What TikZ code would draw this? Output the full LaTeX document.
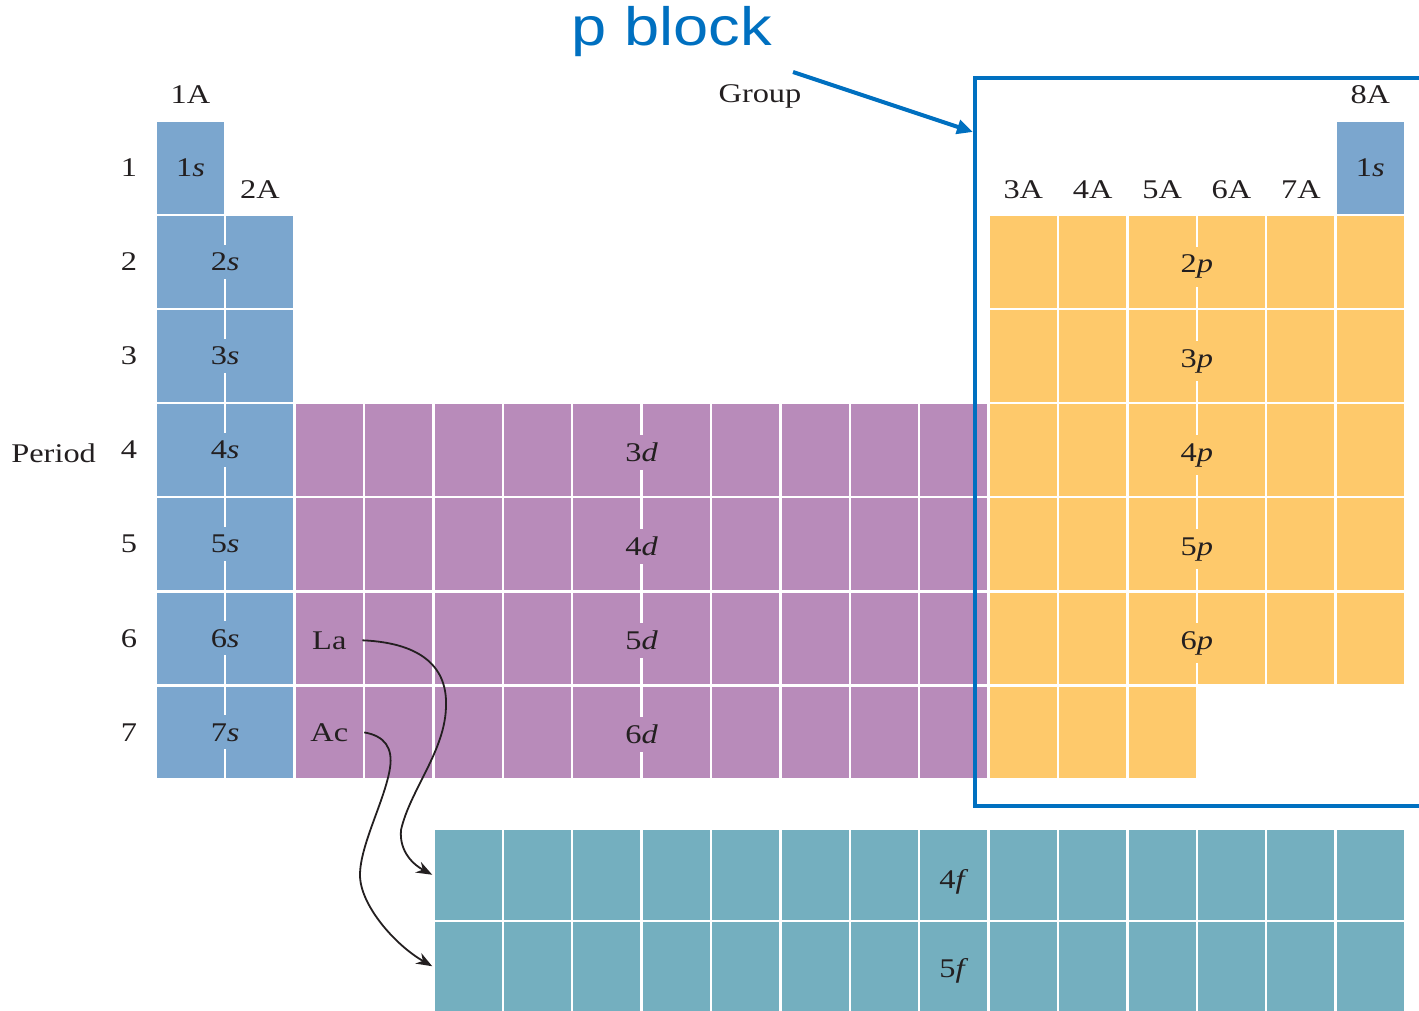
\documentclass[tikz,border=0pt]{standalone}
\usepackage{fontspec}
\setmainfont[FakeStretch=1.2]{Liberation Serif}
\newfontfamily\blocksans[FakeStretch=1.17]{Liberation Sans}
\usepackage{xcolor}
\usetikzlibrary{calc,arrows.meta}
\definecolor{sBlue}{HTML}{7BA6CE}
\definecolor{dPurple}{HTML}{B88BBA}
\definecolor{pYellow}{HTML}{FEC96B}
\definecolor{fTeal}{HTML}{74AFBF}
\definecolor{frameBlue}{HTML}{0070C0}
\definecolor{inkGray}{HTML}{231F20}

\begin{document}
\begin{tikzpicture}[
  x=0.5pt, y=-0.5pt,
  every node/.style={font=\fontsize{13.5pt}{16pt}\selectfont, text=inkGray},
  cell/.style={minimum width=33.45pt, minimum height=45.8pt, inner sep=0pt},
  scell/.style={cell, fill=sBlue},
  dcell/.style={cell, fill=dPurple},
  pcell/.style={cell, fill=pYellow},
  fcell/.style={cell, fill=fTeal, minimum height=44.75pt},
  orb/.style={inner xsep=2pt, inner ysep=4pt},
  lanth/.style={-{Stealth[length=8pt,width=6pt]}, line width=0.9pt, inkGray},
  pointer/.style={-{Triangle[length=8pt,width=7pt]}, line width=2pt, frameBlue},
]
\useasboundingbox (0,0) rectangle (1419,1011);

% s block
\node[scell] (s-1-1) at (190.5,167.8) {};
\foreach \r in {2,...,7}
  \foreach \c in {1,2}
    \node[scell] (s-\r-\c) at ({190.5+(\c-1)*69.4},{167.8+(\r-1)*94.1}) {};
\node[scell] (s-1-18) at ({190.5+17*69.4},167.8) {};

% d block
\foreach \r in {4,...,7}
  \foreach \c in {3,...,12}
    \node[dcell] (d-\r-\c) at ({190.5+(\c-1)*69.4},{167.8+(\r-1)*94.1}) {};

% p block
\foreach \r in {2,...,6}
  \foreach \c in {13,...,18}
    \node[pcell] (p-\r-\c) at ({190.5+(\c-1)*69.4},{167.8+(\r-1)*94.1}) {};
\foreach \c in {13,14,15}
  \node[pcell] (p-7-\c) at ({190.5+(\c-1)*69.4},{167.8+6*94.1}) {};

% f block
\foreach \c in {5,...,18} {
  \node[fcell] (f-1-\c) at ({190.5+(\c-1)*69.4},874.75) {};
  \node[fcell] (f-2-\c) at ({190.5+(\c-1)*69.4},966.25) {};
}

% Orbital labels
\node[orb] at (s-1-1) {1\textit{s}};
\node[orb] at (s-1-18) {1\textit{s}};
\foreach \r in {2,...,7}
  \node[orb, fill=sBlue] at ($(s-\r-1.east)!0.5!(s-\r-2.west)$) {\r\textit{s}};
\foreach \r/\n in {4/3,5/4,6/5,7/6}
  \node[orb, fill=dPurple, yshift=-1pt] at ($(d-\r-7.east)!0.5!(d-\r-8.west)$) {\n\textit{d}};
\foreach \r in {2,...,6}
  \node[orb, fill=pYellow, yshift=-2.5pt] at ($(p-\r-15.east)!0.5!(p-\r-16.west)$) {\r\textit{p}};
\node[orb, yshift=-3.5pt] at (f-1-12) {4\textit{f}};
\node[orb, yshift=-2.5pt] at (f-2-12) {5\textit{f}};
\node[yshift=-1pt] (la) at (d-6-3) {La};
\node (ac) at (d-7-3) {Ac};

% Periods
\foreach \r in {1,...,7}
  \node (per-\r) at (129,{167.8+(\r-1)*94.1}) {\r};
\node[anchor=east] (period) at (103,453) {Period};

% Groups
\node (g-1) at (190.5,95) {1A};
\node (g-2) at (259.9,190) {2A};
\foreach \c/\g in {13/3,14/4,15/5,16/6,17/7}
  \node (g-\g) at ({190.5+(\c-1)*69.4},190) {\g A};
\node (g-8) at ({190.5+17*69.4},95) {8A};
\node (group) at (760,96) {Group};

% La and Ac rows moved down
\draw[lanth] ([xshift=4.5pt]la.east) .. controls (425,643) and (447,670) .. (446,705)
  .. controls (446,750) and (410,790) .. (401,830)
  .. controls (399,852) and (414,865) .. ([xshift=-1pt]f-1-5.west);
\draw[lanth] ([xshift=4.5pt]ac.east) .. controls (385,736) and (393,748) .. (390,768)
  .. controls (385,800) and (360,845) .. (360,875)
  .. controls (360,905) and (395,945) .. ([xshift=-1pt]f-2-5.west);

% p block frame
\draw[frameBlue, line width=2.2pt] (1419,78) -- (975,78) -- (975,806) -- (1419,806);
\node[font=\blocksans\fontsize{27pt}{30pt}\selectfont, text=frameBlue] (pblock) at (672,32) {p block};
\coordinate (ptail) at (793,72);
\coordinate (ptip) at (973,132);
\draw[pointer] (ptail) -- (ptip);

\end{tikzpicture}
\end{document}
